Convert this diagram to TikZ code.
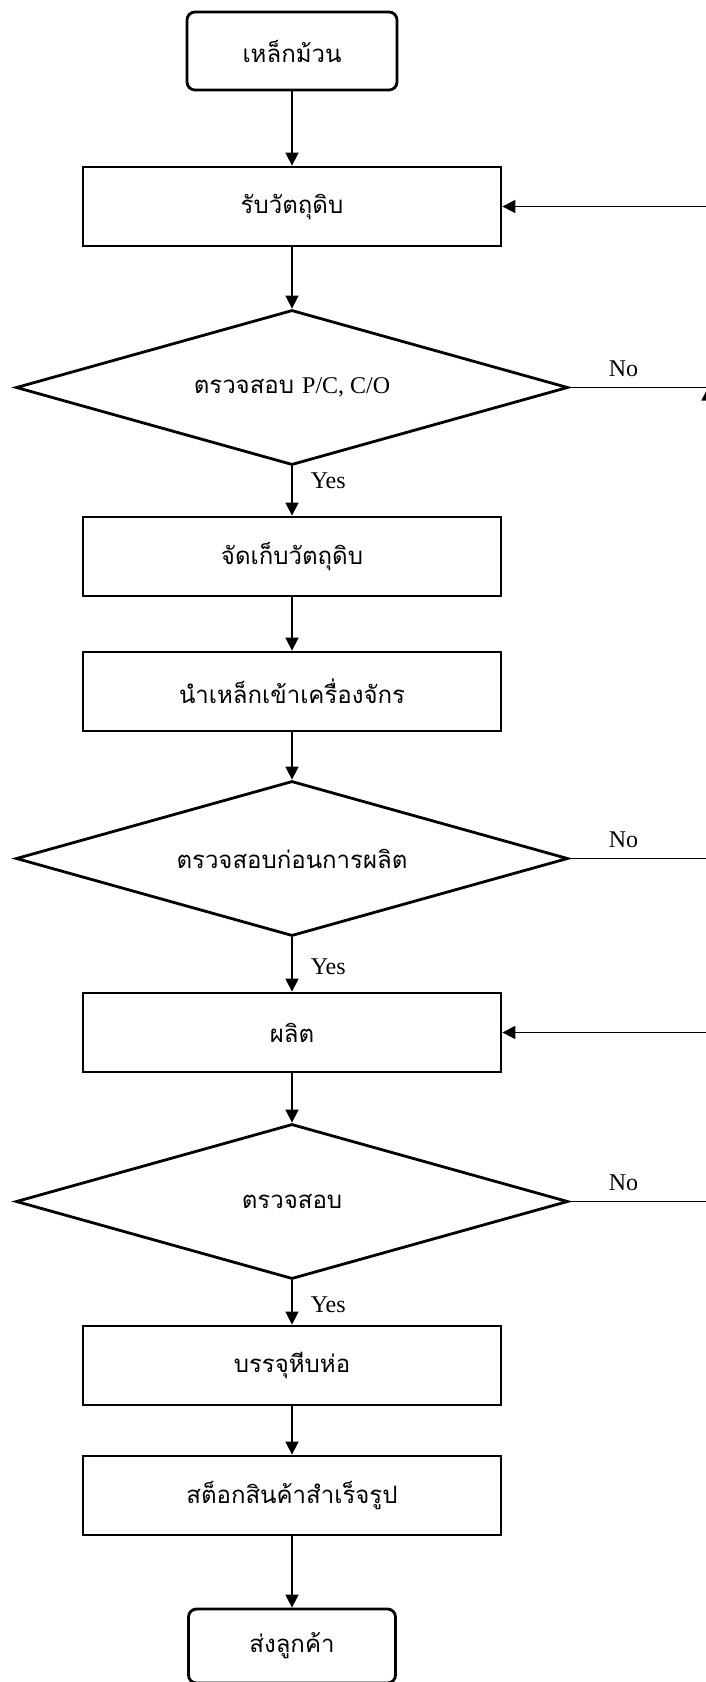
\documentclass[tikz,border=0pt]{standalone}
\usepackage{fontspec}
\setmainfont{Liberation Serif}
\newfontfamily\thai[Script=Thai]{Loma}
\usetikzlibrary{positioning, quotes, arrows.meta, shapes.geometric}
\newcommand\thaitext{\thai\fontsize{12}{14}\selectfont}
\tikzset{
  > = {Triangle[length = 6.5pt, width = 6.5pt]},   % solid heads
  answer/.style = {font = \fontsize{12}{14}\selectfont, inner sep = 2pt},
  every edge quotes/.style = {answer},
  process/.style = {draw, line width = 1.4pt, inner sep = 2pt, font = \thaitext,
    minimum width = 209pt, minimum height = 39.5pt},
  terminal/.style = {process, rounded corners = 4pt,
    minimum width = 105pt, minimum height = 39pt},
  decision/.style = {process, diamond, aspect = 3.56, inner sep = 0pt,
    minimum width = 276pt, minimum height = 77.5pt},
  flow/.style = {->, line width = 0.8pt}
}

\begin{document}
\begin{tikzpicture}
\useasboundingbox (0,0) rectangle (353pt,-841pt);

%% Main column
\node [terminal] (coil) at (146pt,-25.5pt) {เหล็กม้วน};
\node [process] (recv) [below = 37.1pt of coil] {รับวัตถุดิบ};
\node [decision] (chk) [below = 30.6pt of recv] {ตรวจสอบ {\rmfamily P/C, C/O}};
\node [process] (store) [below = 24.6pt of chk] {จัดเก็บวัตถุดิบ};
\node [process] (feed) [below = 26.6pt of store] {นำเหล็กเข้าเครื่องจักร};
\node [decision] (prechk) [below = 23.6pt of feed] {ตรวจสอบก่อนการผลิต};
\node [process] (make) [below = 27.1pt of prechk] {ผลิต};
\node [decision] (qc) [below = 24.6pt of make] {ตรวจสอบ};
\node [process] (pack) [below = 22.1pt of qc] {บรรจุหีบห่อ};
\node [process] (stock) [below = 24.1pt of pack] {สต็อกสินค้าสำเร็จรูป};
\node [terminal, minimum width = 103.5pt, minimum height = 37pt] (ship)
  [below = 35.6pt of stock] {ส่งลูกค้า};

%% Return rail, just past the right edge
\coordinate (rail) at (354pt,0);

%% Straight flow
\foreach \a/\b in {coil/recv, recv/chk, store/feed, feed/prechk, make/qc, pack/stock, stock/ship}
  \path [flow] (\a) edge (\b);
\foreach \a/\b/\p in {chk/store/0.3, prechk/make/0.55, qc/pack/0.55}
  \path [flow] (\a) edge ["Yes" {right = 7pt, pos = \p}] (\b);

%% Rejections
\draw [flow] (chk.east) -- node [answer, above = 3pt, pos = 0.39] {No} (chk.east -| rail) |- (recv.east);
\draw [flow] (prechk.east) -- node [answer, above = 3pt, pos = 0.39] {No} (prechk.east -| rail) -- (chk.east -| rail);
\draw [flow] (qc.east) -- node [answer, above = 3pt, pos = 0.39] {No} (qc.east -| rail) |- (make.east);

\end{tikzpicture}
\end{document}
